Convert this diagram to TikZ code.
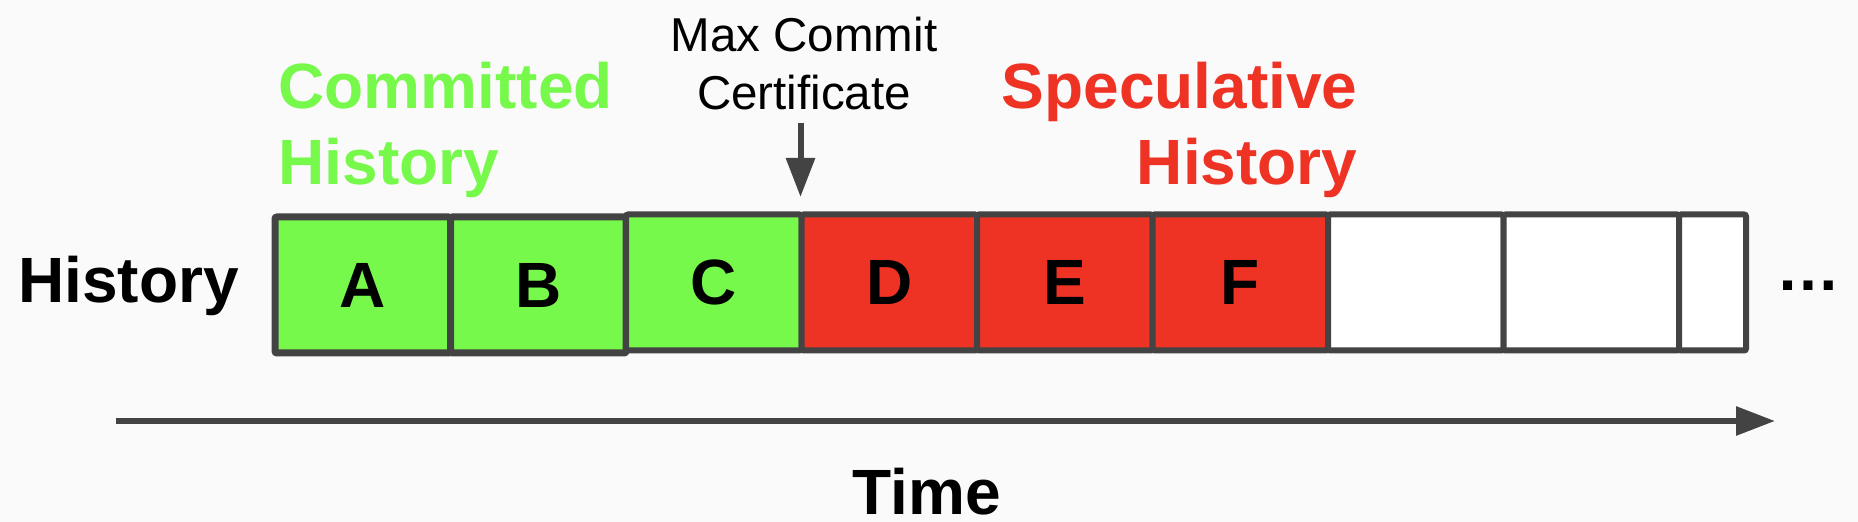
\documentclass[tikz,border=0pt]{standalone}
\usepackage{fontspec}
\setmainfont{Liberation Sans}
\usepackage{xcolor}
\usepackage{tikz}
\usetikzlibrary{arrows,shapes,positioning,calc}
\usetikzlibrary{arrows.meta}

\definecolor{okgreen}{HTML}{77F94C}
\definecolor{specred}{HTML}{EE3224}
\definecolor{linegray}{HTML}{434343}
\definecolor{paper}{HTML}{FAFAFA}

\begin{document}
\begin{tikzpicture}[x=0.5pt,y=-0.5pt,
node distance=87.75pt,
semithick, font=\fontsize{32}{38}\selectfont\bfseries]

\tikzstyle{cell}=[rectangle, minimum width=87.75pt, minimum height=68pt, text centered,
inner sep=0pt, outer sep=0pt, fill=white, draw=linegray, line width=3pt, rounded corners=1pt]

\tikzstyle{arr}=[-{Triangle[length=19.5pt,width=14pt]}, color=linegray, line width=3pt]

\tikzstyle{lbl}=[inner sep=0pt, text=black]

%background
\fill[paper] (0,0) rectangle (1858,522);
\useasboundingbox (0,0) rectangle (1858,522);

%committed cells
\node[cell,fill=okgreen,line width=3.5pt]
(cA) at (362.75,285)
{A};

\node[cell,fill=okgreen,line width=3.5pt]
(cB) [right of=cA]
{B};

\node[cell,fill=okgreen]
(cC) [right of=cB, yshift=1.25pt]
{C};

%speculative cells
\node[cell,fill=specred]
(cD) [right of=cC]
{D};

\node[cell,fill=specred]
(cE) [right of=cD]
{E};

\node[cell,fill=specred]
(cF) [right of=cE]
{F};

%empty cells
\node[cell]
(e1) [right of=cF]
{};

\node[cell]
(e2) [right of=e1]
{};

\node[cell,minimum width=33.5pt]
(e3) [right=0pt of e2]
{};

%labels
\node[lbl,anchor=base]
(hist) at (128.5,303)
{History};

\node[lbl,anchor=base]
(dots) at (1808.5,291)
{\textellipsis};

\node[lbl,text=okgreen,align=left,anchor=north west]
(comm) at (278,62)
{Committed\\History};

\node[lbl,text=specred,align=right,anchor=north east]
(spec) at (1358,62)
{Speculative\\History};

\node[lbl,font=\fontsize{23.75}{29}\selectfont\mdseries,align=center,anchor=north]
(mcc) at (804,16)
{Max Commit\\Certificate};

\node[lbl,anchor=base]
(time) at (926.5,515)
{Time};

%arrows
\coordinate (cert) at (800.5,123);
\coordinate (certtip) at (800.5,197);
\coordinate (t0) at (116,421);
\coordinate (t1) at (1775,421);

\draw[arr] (cert) -- (certtip);
\draw[arr] (t0) -- (t1);

\end{tikzpicture}
\end{document}
